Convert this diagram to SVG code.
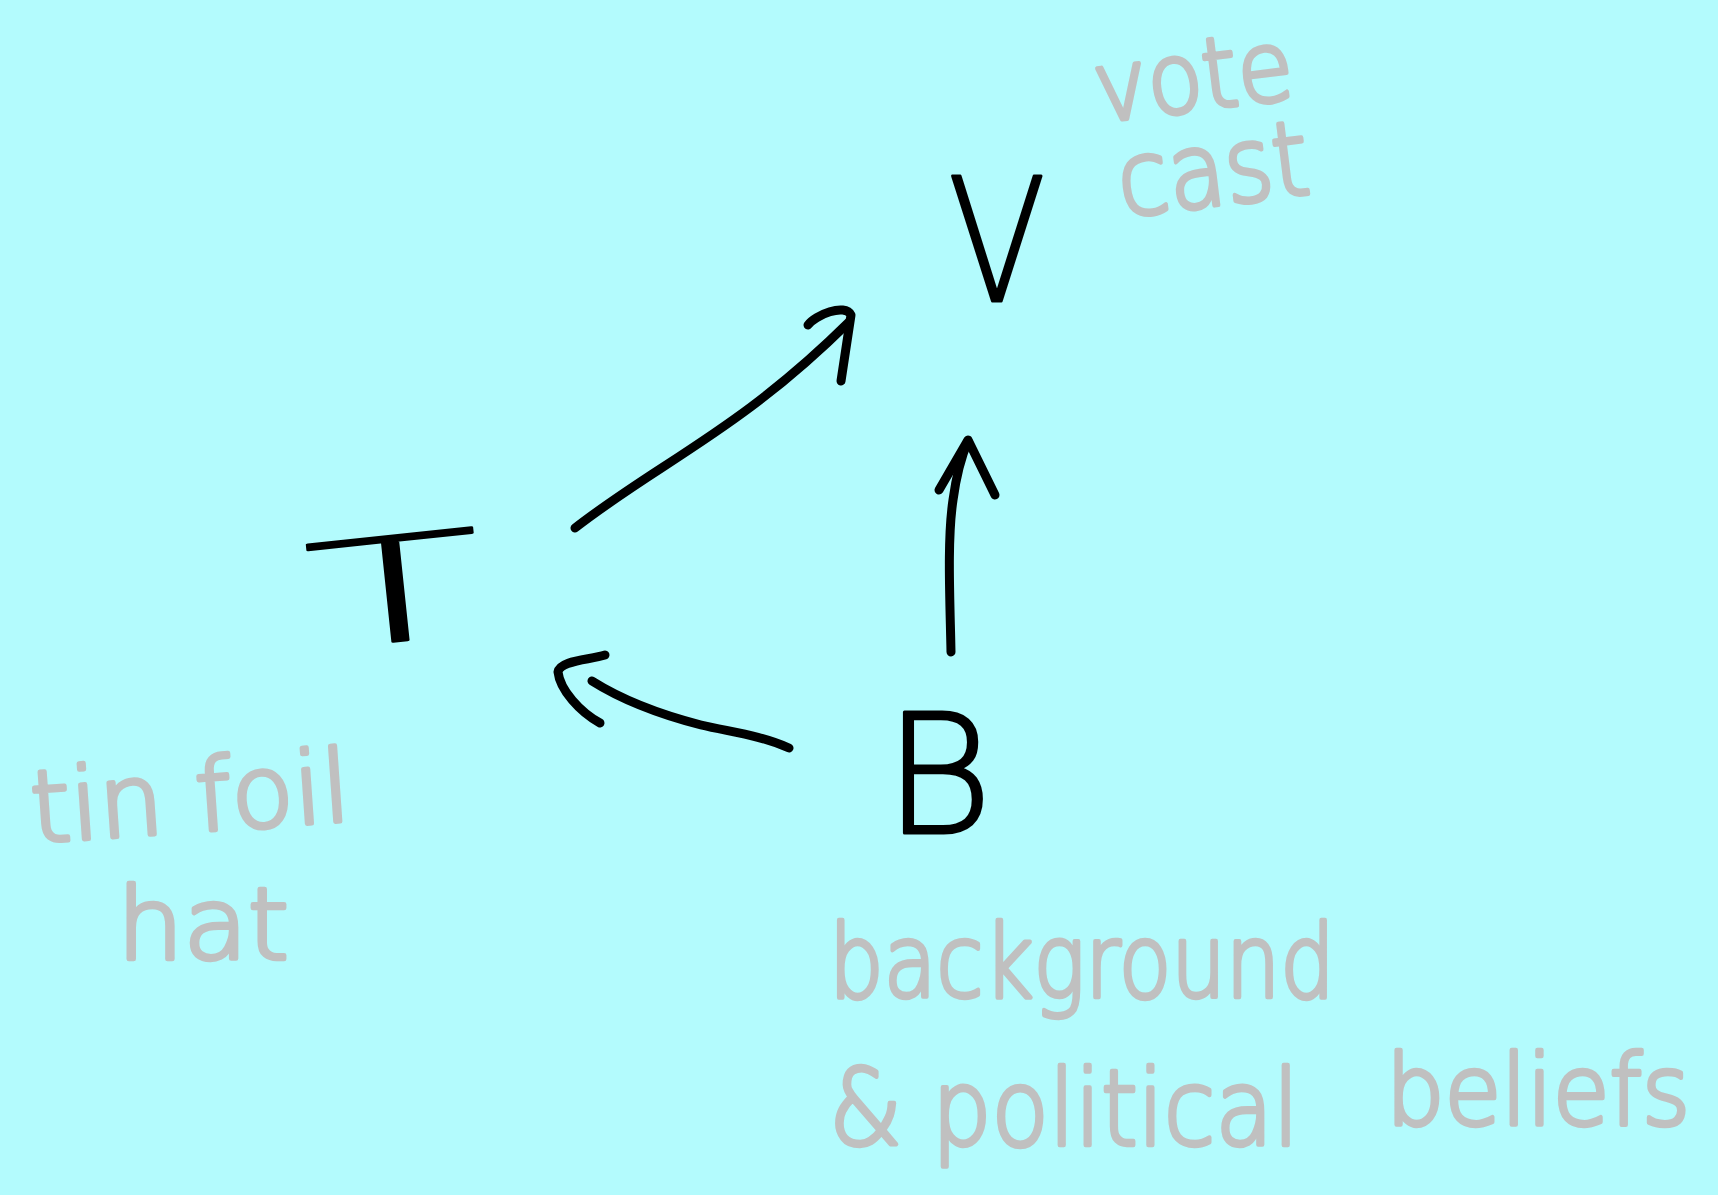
<svg xmlns="http://www.w3.org/2000/svg" width="1718" height="1195" viewBox="0 0 1718 1195">
<style>
.node{font-family:"DejaVu Sans","Liberation Sans",Arial,sans-serif;font-weight:200;fill:#000;stroke:#000;stroke-width:3;stroke-linejoin:round;}
.lbl{font-family:"DejaVu Sans","Liberation Sans",Arial,sans-serif;font-weight:200;fill:#c0c0c0;stroke:#c0c0c0;stroke-width:4.5;stroke-linejoin:round;stroke-linecap:round;}
.conn path{fill:none;stroke:#000;stroke-width:9;stroke-linecap:round;stroke-linejoin:round;}
</style>
<rect x="0" y="0" width="1718" height="1195" fill="#b3fbfd"/>
<g id="node-V">
<text class="node" x="948" y="301" font-size="172" textLength="98" lengthAdjust="spacingAndGlyphs">V</text>
<text class="lbl" transform="rotate(-7 1100 122)" x="1098" y="122" font-size="98" textLength="200" lengthAdjust="spacingAndGlyphs">vote</text>
<text class="lbl" transform="rotate(-7 1120 217)" x="1122" y="217" font-size="104" textLength="192" lengthAdjust="spacingAndGlyphs">cast</text>
</g>
<g id="node-T">
<text class="node" style="stroke-width:2" transform="rotate(-6 400 641)" x="312" y="641" font-size="145" textLength="177" lengthAdjust="spacingAndGlyphs">T</text>
<text class="lbl" transform="rotate(-4 31 843)" x="33" y="843" font-size="100" textLength="320" lengthAdjust="spacingAndGlyphs">tin foil</text>
<text class="lbl" x="117" y="959" font-size="100" textLength="172" lengthAdjust="spacingAndGlyphs">hat</text>
</g>
<g id="node-B">
<text class="node" x="884" y="833" font-size="166">B</text>
<text class="lbl" x="829" y="997" font-size="102" textLength="506" lengthAdjust="spacingAndGlyphs">background</text>
<text class="lbl" x="829" y="1145" font-size="106" textLength="470" lengthAdjust="spacingAndGlyphs">&amp; political</text>
<text class="lbl" x="1386" y="1125" font-size="98" textLength="304" lengthAdjust="spacingAndGlyphs">beliefs</text>
</g>
<g id="connectors" class="conn">
<path d="M575,528 C660,462 740,430 849,322"/>
<path d="M808,325 C815,315 845,303 851,315 L841,381"/>
<path d="M951,652 C950,600 947,540 953,500 C957,470 962,455 968,441"/>
<path d="M939,490 L968,440 L995,495"/>
<path d="M789,748 C760,735 730,732 701,725 C670,717 630,705 592,681"/>
<path d="M605,655 C590,660 560,660 558,672 C560,690 580,712 600,723"/>
</g>
</svg>
